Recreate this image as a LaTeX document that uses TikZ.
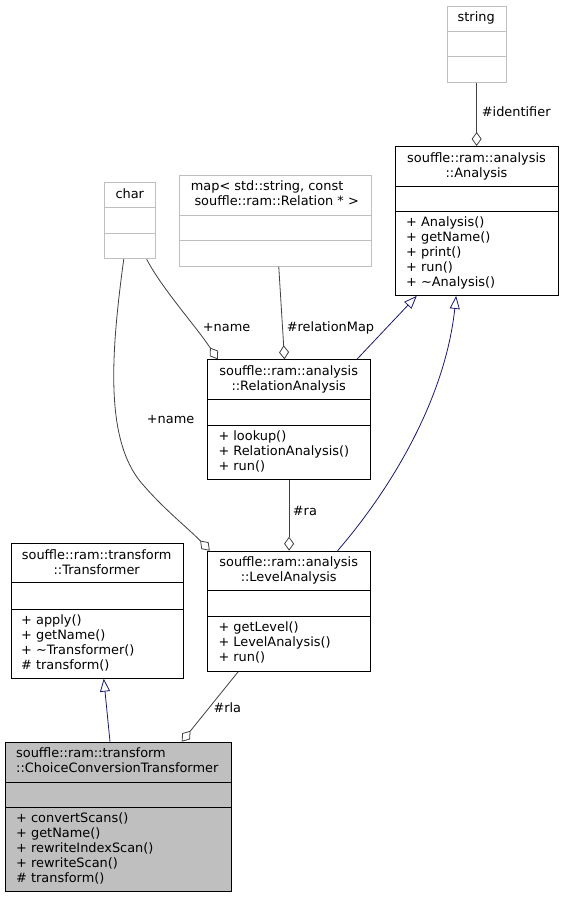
\documentclass[tikz,border=0pt]{standalone}
\usepackage{fontspec}
\setmainfont{DejaVu Sans}
\usetikzlibrary{arrows.meta}
\definecolor{edgegray}{HTML}{404040}
\definecolor{boxgray}{HTML}{BFBFBF}
\definecolor{inhnavy}{HTML}{191970}
\tikzset{
  cls/.style={draw=black, line width=0.9pt, inner sep=0pt, anchor=north west},
  extcls/.style={draw=boxgray, line width=0.9pt, inner sep=0pt, anchor=north west},
  txt/.style={inner sep=0pt, anchor=base west, font=\fontsize{12.9}{15}\selectfont},
  ctxt/.style={inner sep=0pt, anchor=base, font=\fontsize{12.9}{15}\selectfont},
  lbl/.style={inner sep=0pt, anchor=base west, font=\fontsize{12.9}{15}\selectfont},
  aggr/.style={draw=edgegray, line width=0.8pt, -{Diamond[open, length=14pt, width=10pt]}},
  inh/.style={draw=inhnavy, line width=0.8pt, -{Triangle[open, length=13pt, width=10pt]}},
  divb/.style={draw=black, line width=0.9pt},
  divg/.style={draw=boxgray, line width=0.9pt},
}
\begin{document}
\begin{tikzpicture}[x=1pt, y=-1pt]
\useasboundingbox (0,0) rectangle (563,897);

% ---- string ----
\node[extcls, minimum width=59pt, minimum height=76pt] (string) at (446.7,5.7) {};
\draw[divg] (446.7,31.7) -- (505.7,31.7);
\draw[divg] (446.7,56.7) -- (505.7,56.7);
\node[ctxt] (stringT) at (476.2,21.7) {string};

% ---- Analysis ----
\node[cls, minimum width=162.4pt, minimum height=149pt] (analysis) at (395.3,146) {};
\draw[divb] (395.3,186) -- (557.7,186);
\draw[divb] (395.3,211) -- (557.7,211);
\node[ctxt] (analysisT1) at (476.5,162) {souffle::ram::analysis};
\node[ctxt] (analysisT2) at (476.5,177) {::Analysis};
\node[txt] (analysisM1) at (406,226.5) {+ Analysis()};
\node[txt] (analysisM2) at (406,241.5) {+ getName()};
\node[txt] (analysisM3) at (406,256.5) {+ print()};
\node[txt] (analysisM4) at (406,271.5) {+ run()};
\node[txt] (analysisM5) at (406,286.5) {+ \textasciitilde Analysis()};

% ---- map ----
\node[extcls, minimum width=192pt, minimum height=90.7pt] (map) at (179,175) {};
\draw[divg] (179,215) -- (371,215);
\draw[divg] (179,240) -- (371,240);
\node[txt] (mapT1) at (190.7,190.7) {map< std::string, const};
\node[txt] (mapT2) at (194.3,205.7) {souffle::ram::Relation * >};

% ---- char ----
\node[extcls, minimum width=51pt, minimum height=76pt] (char) at (104.3,182.3) {};
\draw[divg] (104.3,207.7) -- (155.3,207.7);
\draw[divg] (104.3,233.3) -- (155.3,233.3);
\node[ctxt] (charT) at (129.8,198.3) {char};

% ---- RelationAnalysis ----
\node[cls, minimum width=162.7pt, minimum height=119.7pt] (relation) at (207.3,359.3) {};
\draw[divb] (207.3,399.3) -- (370,399.3);
\draw[divb] (207.3,425) -- (370,425);
\node[ctxt] (relationT1) at (288.7,375) {souffle::ram::analysis};
\node[ctxt] (relationT2) at (288.7,390) {::RelationAnalysis};
\node[txt] (relationM1) at (218.3,440.7) {+ lookup()};
\node[txt] (relationM2) at (218.3,455.7) {+ RelationAnalysis()};
\node[txt] (relationM3) at (218.3,470.7) {+ run()};

% ---- LevelAnalysis ----
\node[cls, minimum width=162.7pt, minimum height=120pt] (level) at (207.3,550.7) {};
\draw[divb] (207.3,590.7) -- (370,590.7);
\draw[divb] (207.3,616) -- (370,616);
\node[ctxt] (levelT1) at (288.7,566.5) {souffle::ram::analysis};
\node[ctxt] (levelT2) at (288.7,581.5) {::LevelAnalysis};
\node[txt] (levelM1) at (218.3,631.7) {+ getLevel()};
\node[txt] (levelM2) at (218.3,646.7) {+ LevelAnalysis()};
\node[txt] (levelM3) at (218.3,661.7) {+ run()};

% ---- Transformer ----
\node[cls, minimum width=172pt, minimum height=134.4pt] (transformer) at (10.7,543.3) {};
\draw[divb] (10.7,582.7) -- (182.7,582.7);
\draw[divb] (10.7,609) -- (182.7,609);
\node[ctxt] (transformerT1) at (96.7,559.3) {souffle::ram::transform};
\node[ctxt] (transformerT2) at (96.7,574.3) {::Transformer};
\node[txt] (transformerM1) at (21,624.3) {+ apply()};
\node[txt] (transformerM2) at (21,639.3) {+ getName()};
\node[txt] (transformerM3) at (21,654.3) {+ \textasciitilde Transformer()};
\node[txt] (transformerM4) at (21,669.3) {\# transform()};

% ---- ChoiceConversionTransformer ----
\node[cls, fill=boxgray, minimum width=225.7pt, minimum height=149.3pt] (choice) at (5,741.7) {};
\draw[divb] (5,782.3) -- (230.7,782.3);
\draw[divb] (5,807.3) -- (230.7,807.3);
\node[txt] (choiceT1) at (16,757.7) {souffle::ram::transform};
\node[txt] (choiceT2) at (16,772.7) {::ChoiceConversionTransformer};
\node[txt] (choiceM1) at (16,822.3) {+ convertScans()};
\node[txt] (choiceM2) at (16,837.3) {+ getName()};
\node[txt] (choiceM3) at (16,852.3) {+ rewriteIndexScan()};
\node[txt] (choiceM4) at (16,867.3) {+ rewriteScan()};
\node[txt] (choiceM5) at (16,882.3) {\# transform()};

% ---- connectors ----
\draw[aggr] (string.south) -- (string.south |- analysis.north);
\node[lbl] (lblIdent) at (481.7,116.7) {\#identifier};

\draw[aggr] ([xshift=3.3pt]map.south) -- ([xshift=-4.6pt]relation.north);
\node[lbl] (lblRelMap) at (286.7,331.7) {\#relationMap};

\draw[aggr] ([xshift=-9.6pt]char.south east) .. controls (163,290) and (195,325) .. ([xshift=10.5pt]relation.north west);
\node[lbl] (lblName1) at (202.7,331.2) {+name};

\draw[aggr] ([xshift=-6.5pt]char.south) .. controls (110,360) and (105,445) .. (145,487) .. controls (165,510) and (190,530) .. ([xshift=2.5pt]level.north west);
\node[lbl] (lblName2) at (146.7,423.3) {+name};

\draw[aggr] (relation.south) -- (level.north);
\node[lbl] (lblRa) at (292.7,515) {\#ra};

\draw[inh] ([xshift=-14pt]relation.north east) -- ([xshift=21.4pt]analysis.south west);
\draw[inh] ([xshift=-33.3pt]level.north east) .. controls (390,490) and (445,400) .. ([xshift=-20.8pt]analysis.south);

\draw[inh] ([xshift=105pt]choice.north west) -- ([xshift=6.6pt]transformer.south);

\draw[aggr] ([xshift=31pt]level.south west) -- ([xshift=176.7pt]choice.north west);
\node[lbl] (lblRla) at (213.3,712.7) {\#rla};
\end{tikzpicture}
\end{document}
